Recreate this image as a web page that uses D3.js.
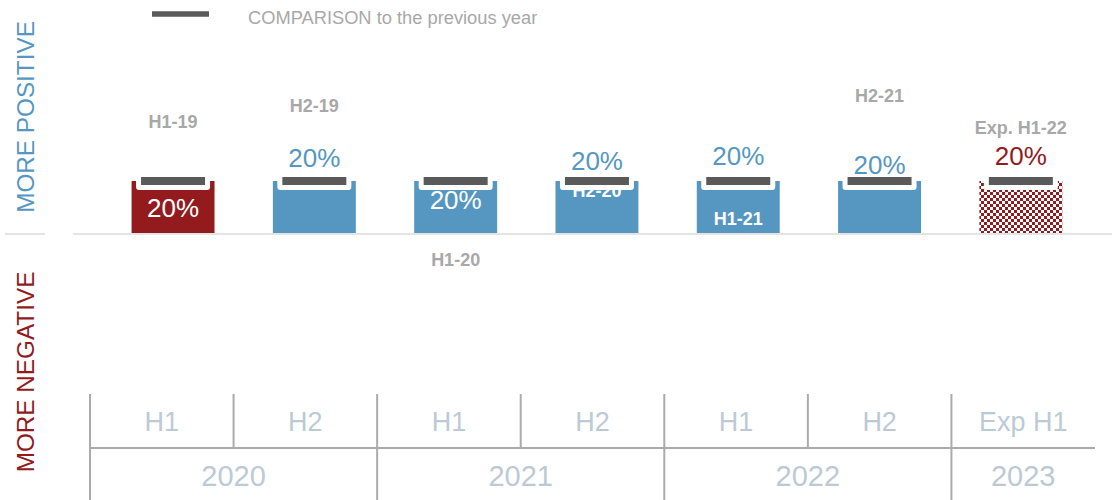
<!DOCTYPE html>
<html><head><meta charset="utf-8">
<script src="https://cdn.jsdelivr.net/npm/d3@7"></script>
<style>
html,body{margin:0;padding:0;background:#fff;}
svg{display:block;font-family:Arial,"Liberation Sans",sans-serif;}
</style></head>
<body>
<svg id="chart" width="1112" height="500"></svg>
<script>
// ---- data ----
const categories = ["H1-19","H2-19","H1-20","H2-20","H1-21","H2-21","Exp. H1-22"];
const values = [20,20,20,20,20,20,20];
const comparison = [20,20,20,20,20,20,20];
const valueLabels = ["20%","20%","20%","20%","20%","20%","20%"];
const barKind = ["neg","pos","pos","pos","pos","pos","expected"];
const halfLabels = ["H1","H2","H1","H2","H1","H2","Exp H1"];
const yearLabels = ["2020","2021","2022","2023"];
const yearSpans = [2,2,2,1];
const legendText = "COMPARISON to the previous year";
const sideLabels = ["MORE POSITIVE","MORE NEGATIVE"];

// ---- layout (label offsets from bar top, px; inside = white text) ----
const valueLabelDy = [27,-23,19,-20,-25,-16,-25];
const valueInside = [true,false,true,false,false,false,false];
const catLabelDy = [-59,-75,79,10,38,-85,-53];
const catInside = [false,false,false,true,true,false,false];

const BLUE = "#5597c1", RED = "#931b1e", DARK = "#5a5a5a", GREY_TXT = "#a8a8a8", AXIS_TXT = "#bccad6", AXIS_LINE = "#ababab";

const svg = d3.select("#chart");
const defs = svg.append("defs");
const pat = defs.append("pattern").attr("id","checker").attr("patternUnits","userSpaceOnUse")
  .attr("width",6).attr("height",6);
pat.append("rect").attr("width",6).attr("height",6).attr("fill","#fff");
pat.append("rect").attr("x",0).attr("y",0).attr("width",3).attr("height",3).attr("fill",RED);
pat.append("rect").attr("x",3).attr("y",3).attr("width",3).attr("height",3).attr("fill",RED);

const x = d3.scaleBand().domain(categories).range([102.4, 1091.5]).paddingInner(0.413).paddingOuter(0.2065);
const y = d3.scaleLinear().domain([-60, 80]).range([389, 25]);

// legend
svg.append("line").attr("x1",152).attr("x2",209).attr("y1",14).attr("y2",14)
  .attr("stroke",DARK).attr("stroke-width",5.5);
svg.append("text").attr("x",248).attr("y",18).attr("dy","0.35em").attr("font-size",18.3)
  .attr("fill",GREY_TXT).text(legendText);

// side labels
svg.append("text").attr("transform","translate(25,117) rotate(-90)").attr("text-anchor","middle")
  .attr("dy","0.35em").attr("font-size",24.3).attr("fill",BLUE).text(sideLabels[0]);
svg.append("text").attr("transform","translate(25,372) rotate(-90)").attr("text-anchor","middle")
  .attr("dy","0.35em").attr("font-size",24.3).attr("fill",RED).text(sideLabels[1]);
svg.append("line").attr("x1",5).attr("x2",45).attr("y1",y(0)+1).attr("y2",y(0)+1)
  .attr("stroke","#e4e4e4").attr("stroke-width",2);

// zero line
svg.append("line").attr("x1",73).attr("x2",1112).attr("y1",y(0)+1).attr("y2",y(0)+1)
  .attr("stroke","#e4e4e4").attr("stroke-width",2);

const idx = d3.range(categories.length);
const fillOf = k => k==="neg" ? RED : (k==="pos" ? BLUE : "url(#checker)");

// bars
svg.append("g").selectAll("rect").data(idx).join("rect")
  .attr("x", i => x(categories[i])).attr("width", x.bandwidth())
  .attr("y", i => y(Math.max(0,values[i]))).attr("height", i => Math.abs(y(values[i]) - y(0)))
  .attr("fill", i => fillOf(barKind[i]));

// inside labels
const g = svg.append("g");
idx.forEach(i => {
  const cx = x(categories[i]) + x.bandwidth()/2, top = y(values[i]);
  if (catInside[i]) g.append("text").attr("x",cx).attr("y",top+catLabelDy[i]).attr("dy","0.35em")
    .attr("text-anchor","middle").attr("font-size",18).attr("font-weight","bold").attr("fill","#fff").text(categories[i]);
  if (valueInside[i]) g.append("text").attr("x",cx).attr("y",top+valueLabelDy[i]).attr("dy","0.35em")
    .attr("text-anchor","middle").attr("font-size",26).attr("fill","#fff").text(valueLabels[i]);
});

// comparison markers
const mw = 64, mh = 8;
const mk = svg.append("g");
idx.forEach(i => {
  const cx = x(categories[i]) + x.bandwidth()/2, cy = y(comparison[i]);
  mk.append("rect").attr("x",cx-mw/2-5).attr("y",cy-mh/2-5).attr("width",mw+10).attr("height",mh+10)
    .attr("rx",3).attr("fill","#fff");
  mk.append("rect").attr("x",cx-mw/2).attr("y",cy-mh/2).attr("width",mw).attr("height",mh).attr("fill",DARK);
});

// outside labels (on top of markers)
const go = svg.append("g");
idx.forEach(i => {
  const cx = x(categories[i]) + x.bandwidth()/2, top = y(values[i]);
  if (!catInside[i]) go.append("text").attr("x",cx).attr("y",top+catLabelDy[i]).attr("dy","0.35em")
    .attr("text-anchor","middle").attr("font-size",18).attr("font-weight","bold").attr("fill",GREY_TXT).text(categories[i]);
  if (!valueInside[i]) go.append("text").attr("x",cx).attr("y",top+valueLabelDy[i]).attr("dy","0.35em")
    .attr("text-anchor","middle").attr("font-size",26).attr("fill", barKind[i]==="pos" ? BLUE : RED).text(valueLabels[i]);
});

// category axis table
const ax = d3.scaleBand().domain(d3.range(halfLabels.length)).range([90, 1095]);
const row1Top = 394, rowMid = 448, rowBot = 500;
const axg = svg.append("g");
axg.append("line").attr("x1",ax.range()[0]).attr("x2",ax.range()[1]).attr("y1",rowMid).attr("y2",rowMid)
  .attr("stroke",AXIS_LINE).attr("stroke-width",2);
const yearStarts = [];
let acc = 0; yearSpans.forEach(s => { yearStarts.push(acc); acc += s; });
d3.range(halfLabels.length).forEach(k => {
  const full = yearStarts.includes(k);
  axg.append("line").attr("x1",ax(k)).attr("x2",ax(k)).attr("y1",row1Top).attr("y2", full ? rowBot : rowMid)
    .attr("stroke",AXIS_LINE).attr("stroke-width",2);
});
halfLabels.forEach((t,k) => {
  axg.append("text").attr("x",ax(k)+ax.bandwidth()/2).attr("y",422).attr("dy","0.35em")
    .attr("text-anchor","middle").attr("font-size",27).attr("fill",AXIS_TXT).text(t);
});
yearLabels.forEach((t,j) => {
  const x0 = ax(yearStarts[j]), x1 = x0 + ax.bandwidth()*yearSpans[j];
  axg.append("text").attr("x",(x0+x1)/2).attr("y",476).attr("dy","0.35em")
    .attr("text-anchor","middle").attr("font-size",29).attr("fill",AXIS_TXT).text(t);
});
</script>
</body></html>
